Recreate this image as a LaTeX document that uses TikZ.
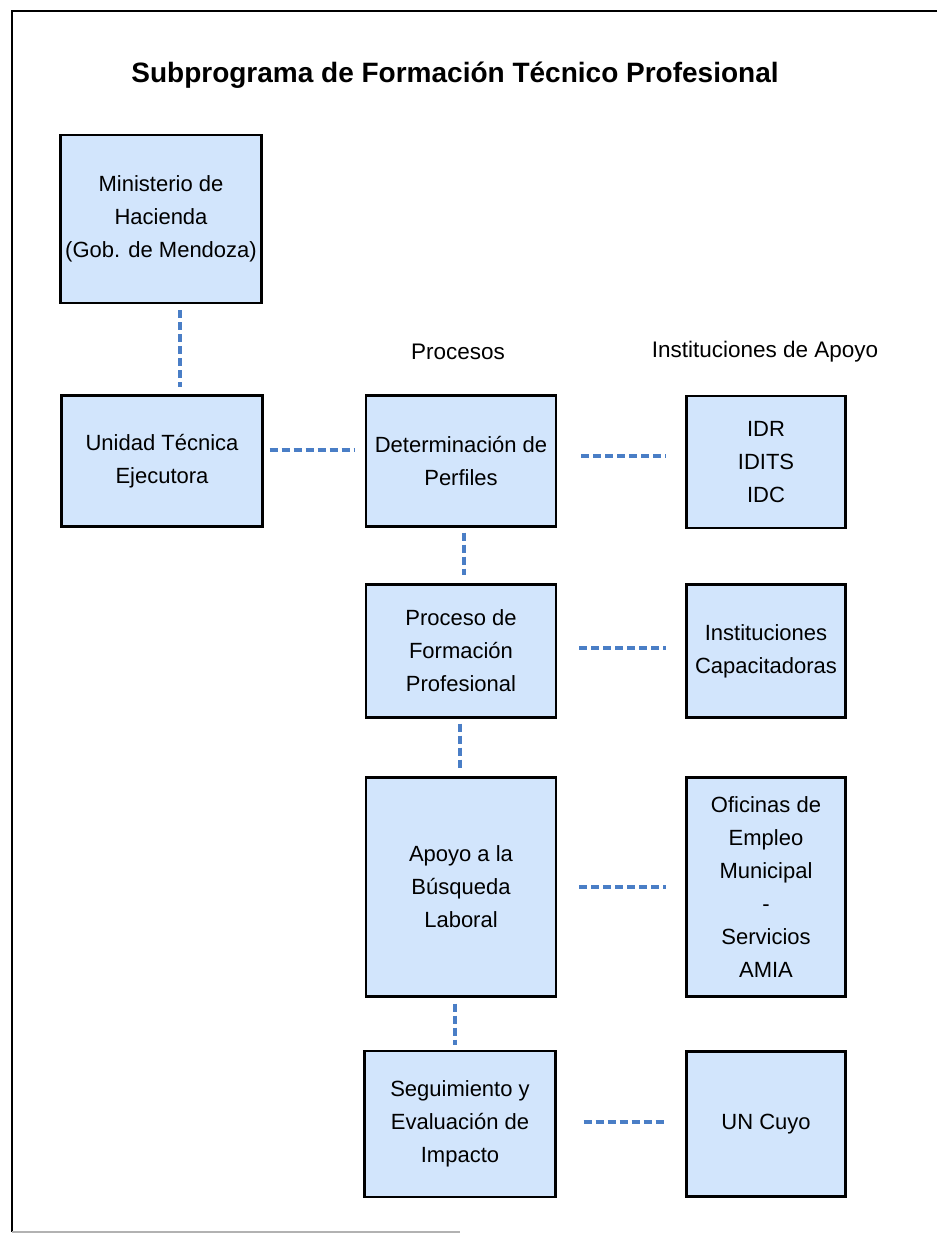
\documentclass[tikz,border=0pt]{standalone}
\usepackage{fontspec}
\setmainfont{Liberation Sans}
\definecolor{boxfill}{HTML}{D2E5FC}
\definecolor{dashblue}{HTML}{4A7EC6}
\begin{document}
\begin{tikzpicture}[x=1pt,y=-1pt,
  box/.style={draw=black,line width=2.4pt,fill=boxfill,inner sep=0pt,align=center,
    font=\fontsize{22}{33}\selectfont},
  link/.style={draw=dashblue,line width=3.4pt,dash pattern=on 8pt off 4pt},
  hdr/.style={font=\fontsize{22.5}{26}\selectfont,inner sep=0pt}]
\useasboundingbox (0,0) rectangle (937,1233);
\fill[white] (0,0) rectangle (937,1233);
% frame
\draw[line width=2pt] (937,11) -- (12,11) -- (12,1232);
\draw[line width=1.5pt,gray!60] (12,1232) -- (460,1232);
% title
\node[inner sep=0pt,font=\bfseries\fontsize{28}{32}\selectfont] (title) at (455,75)
  {Subprograma de Formación Técnico Profesional};
% headers
\node[hdr] (hproc) at (458,352) {Procesos};
\node[hdr] (hinst) at (765,352) {Instituciones de Apoyo};
% boxes
\node[box,minimum width=201pt,minimum height=168pt] (min) at (161,219)
  {Ministerio de\\Hacienda\\(Gob. de Mendoza)};
\node[box,minimum width=201pt,minimum height=131pt] (ute) at (162,461)
  {Unidad Técnica\\Ejecutora};
\node[box,minimum width=190pt,minimum height=131pt] (det) at (461,461)
  {Determinación de\\Perfiles};
\node[box,minimum width=159pt,minimum height=132pt] (idr) at (766,462)
  {IDR\\IDITS\\IDC};
\node[box,minimum width=190pt,minimum height=133pt] (pfp) at (461,651)
  {Proceso de\\Formación\\Profesional};
\node[box,minimum width=159pt,minimum height=133pt] (ica) at (766,651)
  {Instituciones\\Capacitadoras};
\node[box,minimum width=190pt,minimum height=219pt] (abl) at (461,887)
  {Apoyo a la\\Búsqueda\\Laboral};
\node[box,minimum width=159pt,minimum height=219pt] (ofi) at (766,887)
  {Oficinas de\\Empleo\\Municipal\\-\\Servicios\\AMIA};
\node[box,minimum width=191pt,minimum height=146pt] (sei) at (460,1124)
  {Seguimiento y\\Evaluación de\\Impacto};
\node[box,minimum width=159pt,minimum height=145pt] (unc) at (766,1124)
  {UN Cuyo};
% connectors
\draw[link] ([yshift=-6pt]min.south -| 180,0) -- ([yshift=7pt]ute.north -| 180,0);
\draw[link] ([xshift=6pt]ute.east |- 0,450) -- ([xshift=-10pt]det.west |- 0,450);
\draw[link] ([xshift=24pt]det.east |- 0,456) -- ([xshift=-19pt]idr.west |- 0,456);
\draw[link] (464,0 |- det.south) ++(0,5) -- (464,575);
\draw[link] ([xshift=22pt]pfp.east |- 0,648) -- ([xshift=-19pt]ica.west |- 0,648);
\draw[link] (460,0 |- pfp.south) ++(0,5) -- (460,768);
\draw[link] ([xshift=22pt]abl.east |- 0,887) -- ([xshift=-19pt]ofi.west |- 0,887);
\draw[link] (455,0 |- abl.south) ++(0,6) -- (455,1045);
\draw[link] ([xshift=27pt]sei.east |- 0,1122) -- ([xshift=-18pt]unc.west |- 0,1122);
\end{tikzpicture}
\end{document}
